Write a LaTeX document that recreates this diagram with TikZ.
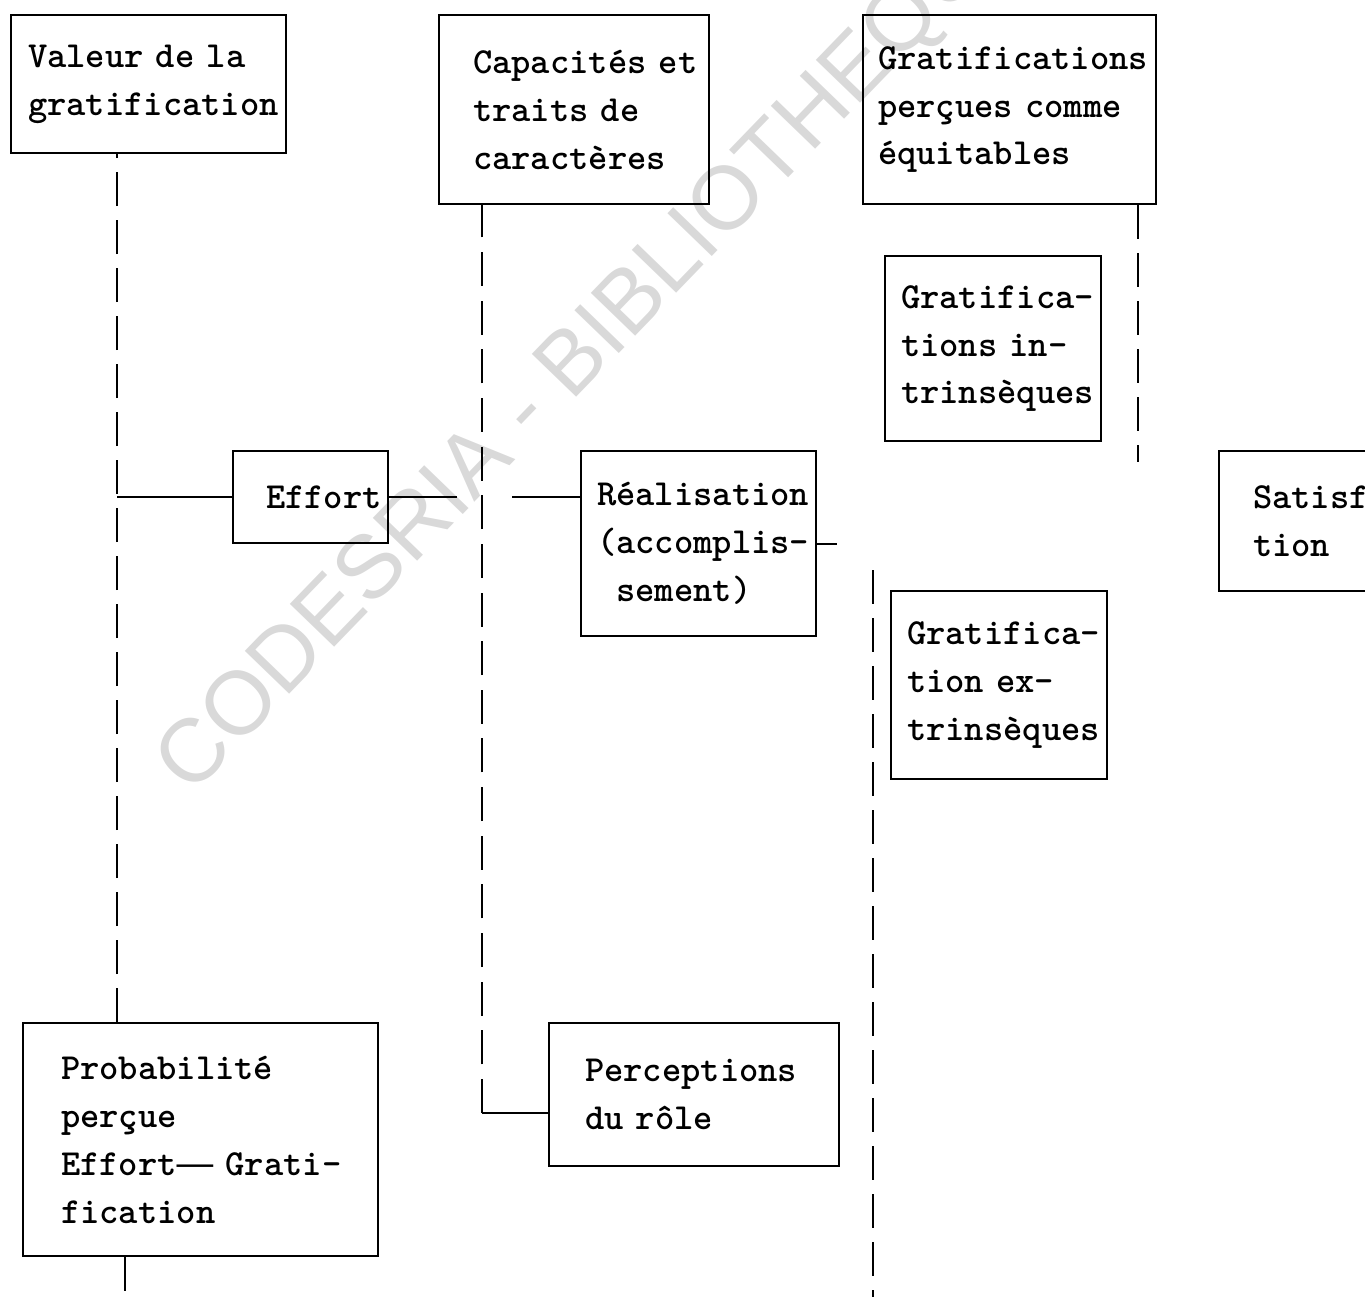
\documentclass[tikz,border=0pt]{standalone}
\usepackage{fontspec}
\newfontfamily\wmfont{Liberation Sans}
\hyphenpenalty=10000
\exhyphenpenalty=10000

\begin{document}
\begin{tikzpicture}[
    box/.style={rectangle, draw, line width=1.2pt, anchor=north west, align=left,
                inner ysep=0pt, font=\ttfamily\bfseries\fontsize{20.9}{27.3}\selectfont},
    link/.style={line width=1.2pt},
    trunk/.style={line width=1.2pt, dash pattern=on 0.68cm off 0.28cm},
    stamp/.style={font=\wmfont\fontsize{51}{51}\selectfont, text=black!15, rotate=46}
]
\useasboundingbox (0,0) rectangle (27.30,-25.94);
\clip (0,0) rectangle (27.30,-25.94);

% Scan watermark
\node[stamp] (wm) at (11.9,-6.9) {CODESRIA - BIBLIOTHEQUE};

% Top row
\node[box, text width=4.82cm, inner xsep=0.34cm, minimum height=2.76cm] (val) at (0.20,-0.28)
    {Valeur~de~la\\gratification};
\node[box, text width=4.04cm, inner xsep=0.68cm, minimum height=3.78cm] (cap) at (8.76,-0.28)
    {Capacités~et\\traits~de\\caractères};
\node[box, text width=5.26cm, inner xsep=0.30cm, minimum height=3.78cm] (gpe) at (17.24,-0.28)
    {Gratifications\\perçues~comme\\équitables};

% Middle
\node[box, text width=3.68cm, inner xsep=0.32cm, minimum height=3.70cm] (gin) at (17.68,-5.10)
    {Gratifica-\\tions~in-\\trinsèques};
\node[box, text width=1.78cm, inner xsep=0.66cm, minimum height=1.84cm] (eff) at (4.64,-9.00)
    {Effort};
\node[box, text width=4.06cm, inner xsep=0.32cm, minimum height=3.70cm] (rea) at (11.60,-9.00)
    {Réalisation\\(accomplis-\\\hphantom{(}sement)};
\node[box, text width=3.08cm, inner xsep=0.68cm, minimum height=2.80cm] (sat) at (24.36,-9.00)
    {Satisfac-\\tion};
\node[box, text width=3.68cm, inner xsep=0.32cm, minimum height=3.76cm] (gex) at (17.80,-11.80)
    {Gratifica-\\tion~ex-\\trinsèques};

% Bottom row
\node[box, text width=5.58cm, inner xsep=0.76cm, minimum height=4.66cm] (pro) at (0.44,-20.44)
    {Probabilité\\perçue\\Effort{\wmfont\mdseries—}~Grati-\\fication};
\node[box, text width=4.36cm, inner xsep=0.72cm, minimum height=2.86cm] (per) at (10.96,-20.44)
    {Perceptions\\du~rôle};

% Trunk lines
\coordinate (lx) at (2.34,0);
\coordinate (pbot) at (2.50,-25.94);
\coordinate (mx) at (9.64,-22.26);
\coordinate (gend) at (22.76,-9.24);
\coordinate (xtop) at (17.46,-11.40);
\coordinate (xbot) at (17.46,-25.94);

\draw[trunk] (pro.north -| lx) -- (val.south -| lx);
\draw[trunk] (pro.south -| pbot) -- (pbot);
\draw[trunk, dash pattern=on 0.68cm off 0.293cm] (mx) -- (cap.south -| mx);
\draw[trunk] (gpe.south -| gend) -- (gend);
\draw[trunk] (xtop) -- (xbot);

% Horizontal links
\draw[link] (eff.west -| lx) -- (eff.west);
\draw[link] (eff.east) -- ++(1.36,0);
\draw[link] (rea.west |- eff.east) -- ++(-1.36,0);
\draw[link] (rea.east) -- ++(0.40,0);
\draw[link] (mx) -- (per.west |- mx);

\end{tikzpicture}
\end{document}
